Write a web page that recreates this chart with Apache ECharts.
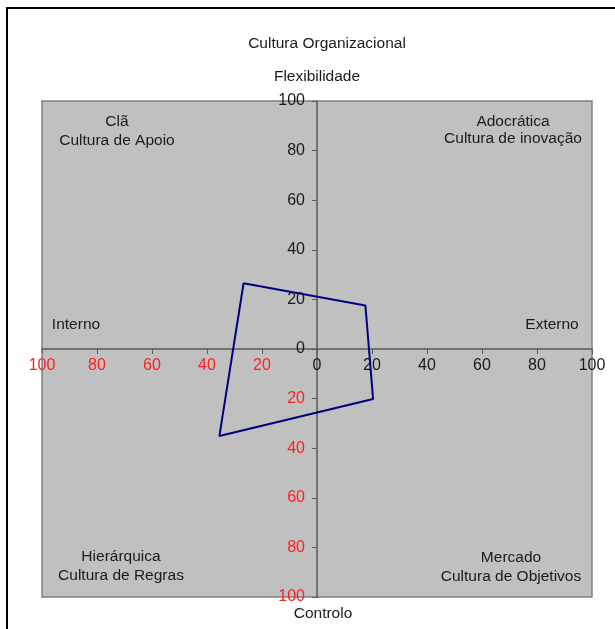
<!DOCTYPE html>
<html>
<head>
<meta charset="utf-8">
<script src="https://cdn.jsdelivr.net/npm/echarts@6/dist/echarts.min.js"></script>
<style>
  html, body { margin: 0; padding: 0; background: #fff; }
  #chart { width: 615px; height: 629px; }
</style>
</head>
<body>
<div id="chart"></div>
<script>
// Competing-values profile: x = Interno (-) / Externo (+), y = Controlo (-) / Flexibilidade (+)
const profileX = [-26.7, 17.6, 20.4, -35.5];
const profileY = [26.5, 17.5, -20.2, -35.1];
const axisTicks = [-100, -80, -60, -40, -20, 0, 20, 40, 60, 80, 100];

const chartTitle = 'Cultura Organizacional';
const topAxisName = 'Flexibilidade';
const bottomAxisName = 'Controlo';
const leftAxisName = 'Interno';
const rightAxisName = 'Externo';
const quadrantNames = ['Clã', 'Adocrática', 'Hierárquica', 'Mercado'];
const quadrantCultures = ['Cultura de Apoio', 'Cultura de inovação', 'Cultura de Regras', 'Cultura de Objetivos'];

// closed polygon through the four profile points
const polygon = profileX.map((x, i) => [x, profileY[i]]);
polygon.push(polygon[0]);

const FONT = '"Liberation Sans", Arial, sans-serif';
const TXT = '#1a1a1a';
const GRID = { left: 42, top: 101, width: 550, height: 496 };

function tickLabel(v) {
  const a = Math.abs(v);
  return v < 0 ? '{neg|' + a + '}' : '{pos|' + a + '}';
}
const tickRich = {
  neg: { color: '#ff2020', fontSize: 16, fontFamily: FONT },
  pos: { color: TXT, fontSize: 16, fontFamily: FONT }
};

function txt(x, y, s, align) {
  return {
    type: 'text', x: x, y: y, z: 100,
    style: { text: s, fill: TXT, font: '15.5px ' + FONT, align: align || 'center', verticalAlign: 'middle' }
  };
}

const axisCommon = {
  type: 'value', min: axisTicks[0], max: axisTicks[axisTicks.length - 1], interval: 20,
  axisTick: { show: true, length: 5, lineStyle: { color: '#5a5a5a' } },
  splitLine: { show: false },
  z: 3
};

const chart = echarts.init(document.getElementById('chart'), null, { renderer: 'canvas' });
chart.setOption({
  backgroundColor: '#ffffff',
  animation: false,
  grid: Object.assign({
    show: true, backgroundColor: '#c0c0c0', borderColor: '#808080', borderWidth: 1.5
  }, GRID),
  // axes drawn through the origin (the centre of the square plot)
  xAxis: Object.assign({}, axisCommon, {
    position: 'bottom',
    offset: -GRID.height / 2,
    axisLine: { show: true, onZero: false, lineStyle: { color: '#5a5a5a', width: 1.5 } },
    axisLabel: { formatter: tickLabel, rich: tickRich, margin: 9, showMinLabel: true, showMaxLabel: true }
  }),
  yAxis: Object.assign({}, axisCommon, {
    position: 'left',
    offset: -GRID.width / 2,
    axisLine: { show: true, onZero: false, lineStyle: { color: '#5a5a5a', width: 1.5 } },
    axisLabel: { formatter: tickLabel, rich: tickRich, margin: 12, showMinLabel: true, showMaxLabel: true }
  }),
  series: [{
    type: 'line',
    data: polygon,
    showSymbol: false,
    symbol: 'none',
    lineStyle: { color: '#000080', width: 2 },
    z: 5
  }],
  graphic: [
    {
      type: 'rect', z: 100, silent: true,
      shape: { x: 7, y: 8, width: 700, height: 700 },
      style: { fill: 'none', stroke: '#000', lineWidth: 2 }
    },
    txt(327, 44, chartTitle),
    txt(317, 77, topAxisName),
    txt(323, 614, bottomAxisName),
    txt(76, 325, leftAxisName),
    txt(552, 325, rightAxisName),
    txt(117, 122, quadrantNames[0]),
    txt(117, 141, quadrantCultures[0]),
    txt(513, 122, quadrantNames[1]),
    txt(513, 139, quadrantCultures[1]),
    txt(121, 557, quadrantNames[2]),
    txt(121, 576, quadrantCultures[2]),
    txt(511, 558, quadrantNames[3]),
    txt(511, 577, quadrantCultures[3])
  ]
});
</script>
</body>
</html>
